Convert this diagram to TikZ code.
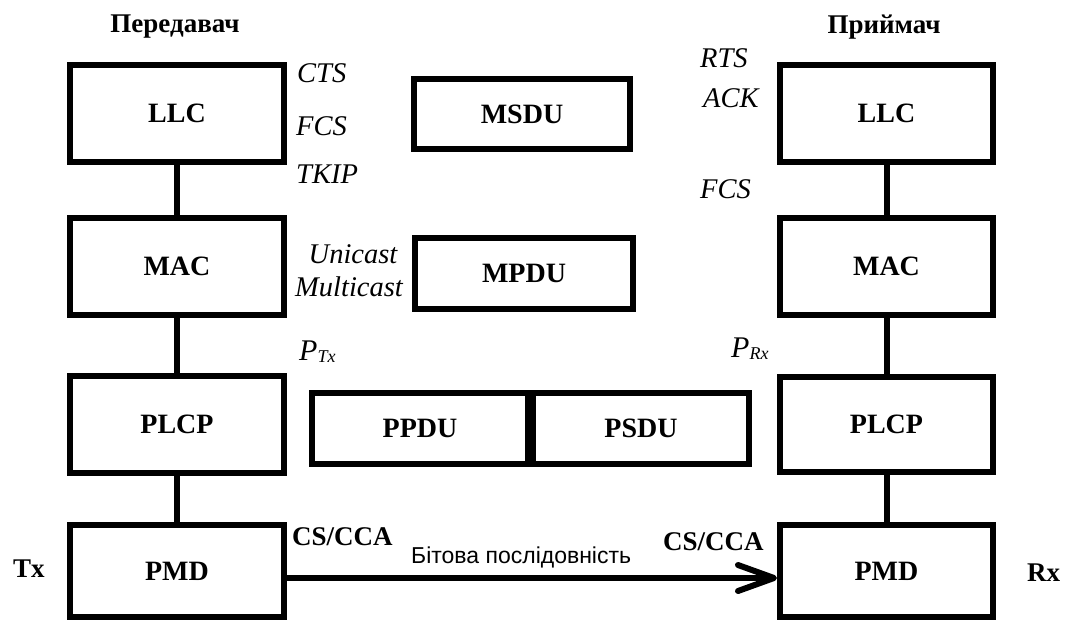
\documentclass[tikz,border=0pt]{standalone}
\usepackage{fontspec}
\setmainfont{Liberation Serif}
\newfontfamily\arialfont{Liberation Sans}
\usetikzlibrary{arrows.meta}
\begin{document}
\begin{tikzpicture}[x=1pt,y=-1pt,
  layer/.style={draw, line width=6pt, inner sep=0pt, minimum width=214pt,
    minimum height=97pt, font=\fontsize{28}{30}\selectfont\bfseries},
  unit/.style={draw, line width=6pt, inner sep=0pt, minimum height=70pt,
    font=\fontsize{28}{30}\selectfont\bfseries},
  link/.style={line width=6pt},
  param/.style={inner sep=0pt, anchor=base west, font=\fontsize{28.5}{30}\selectfont\itshape},
  side/.style={inner sep=0pt, font=\fontsize{27}{30}\selectfont\bfseries}]
\useasboundingbox (0,0) rectangle (1065,621);

% transmitter stack
\node[layer] (tllc)  at (177,113.5) {LLC};
\node[layer] (tmac)  at (177,266.5) {MAC};
\node[layer] (tplcp) at (177,424.5) {PLCP};
\node[layer, minimum height=92pt] (tpmd) at (177,571) {PMD};

% receiver stack
\node[layer, minimum width=213pt] (rllc)  at (886.5,113.5) {LLC};
\node[layer, minimum width=213pt] (rmac)  at (886.5,266.5) {MAC};
\node[layer, minimum width=213pt, minimum height=95pt] (rplcp) at (886.5,424.5) {PLCP};
\node[layer, minimum width=213pt, minimum height=92pt] (rpmd) at (886.5,571) {PMD};

% data units
\node[unit, minimum width=216pt] (msdu) at (522,114) {MSDU};
\node[unit, minimum width=218pt, minimum height=71pt] (mpdu) at (524,273.5) {MPDU};
\node[unit, minimum width=216pt, minimum height=71pt] (ppdu) at (420,428.5) {PPDU};
\node[unit, minimum width=216pt, minimum height=71pt] (psdu) at (641,428.5) {PSDU};

% links between layers
\draw[link] (tllc.south)  -- (tmac.north);
\draw[link] (tmac.south)  -- (tplcp.north);
\draw[link] (tplcp.south) -- (tpmd.north);
\draw[link] (rllc.south)  -- (rmac.north);
\draw[link] (rmac.south)  -- (rplcp.north);
\draw[link] (rplcp.south) -- (rpmd.north);

% bit stream
\draw[link, -{Straight Barb[length=36pt,width=26pt,round]}]
  ([yshift=-7pt]tpmd.east) -- ([yshift=-7pt]rpmd.west);
\node[inner sep=0pt, anchor=base west, font=\arialfont\fontsize{23}{25}\selectfont]
  (bits) at (411,563) {Бітова послідовність};

% headings
\node[side, anchor=base] (thead) at (175,32) {Передавач};
\node[side, anchor=base] (rhead) at (884,33) {Приймач};
\node[side, anchor=base west] (tx) at (13,577) {Tx};
\node[side, anchor=base west] (rx) at (1027,581) {Rx};
\node[side, anchor=base west] (tcs) at (292,545) {CS/CCA};
\node[side, anchor=base west] (rcs) at (663,550) {CS/CCA};

% parameters
\node[param] (cts)  at (297,82)  {CTS};
\node[param] (tfcs) at (296,135) {FCS};
\node[param] (tkip) at (296,183) {TKIP};
\node[param] (rts)  at (700,67)  {RTS};
\node[param] (ack)  at (703,107) {ACK};
\node[param] (rfcs) at (700,198) {FCS};
\node[param, anchor=base] (uni)   at (353,263) {Unicast};
\node[param, anchor=base] (multi) at (349,296) {Multicast};
\node[param, font=\fontsize{30}{30}\selectfont\itshape] (ptx) at (299,360)
  {P\raisebox{-2pt}{\fontsize{18}{19}\selectfont Tx}};
\node[param, font=\fontsize{30}{30}\selectfont\itshape] (prx) at (731,357)
  {P\raisebox{-2pt}{\fontsize{18}{19}\selectfont Rx}};
\end{tikzpicture}
\end{document}
